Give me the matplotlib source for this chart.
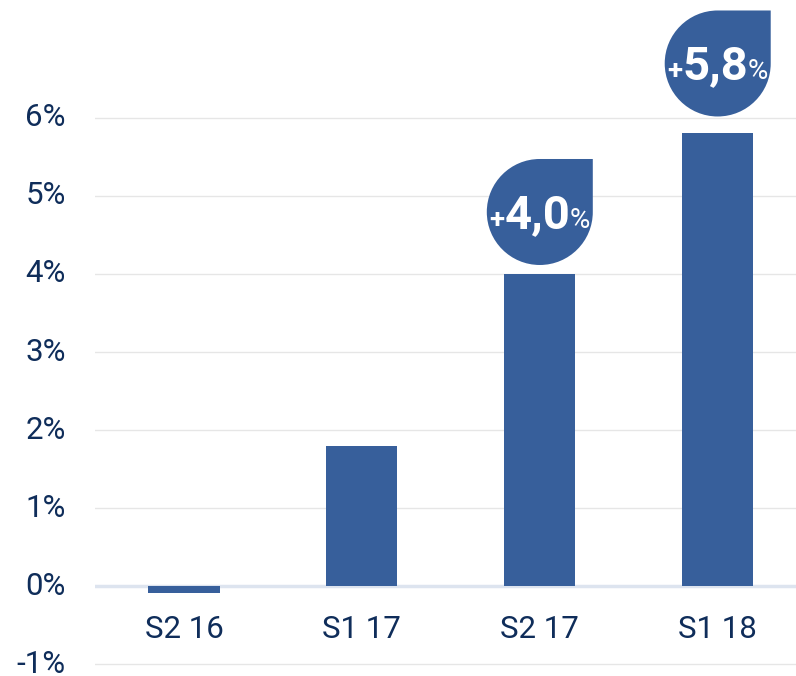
import matplotlib
matplotlib.use("Agg")
import matplotlib.pyplot as plt
import matplotlib.transforms as mtransforms
from matplotlib.path import Path
from matplotlib.patches import PathPatch
from matplotlib.offsetbox import TextArea, HPacker, AnnotationBbox
import numpy as np

plt.rcParams['font.family'] = ['Roboto', 'DejaVu Sans']

# data
categories = ["S2 16", "S1 17", "S2 17", "S1 18"]
values = [-0.09, 1.8, 4.0, 5.8]
y_ticks = [-1, 0, 1, 2, 3, 4, 5, 6]
bubble_idx = [2, 3]
bubble_labels = ["4,0", "5,8"]

bar_color = "#375f9b"
text_color = "#0f2d5a"

fig = plt.figure(figsize=(7.96, 6.76), dpi=100)
ax = fig.add_axes([95 / 796, 0, 701 / 796, 1])
ax.set_xlim(-0.5, 3.44)
ax.set_ylim(-1.15, 7.51)

x = np.arange(len(categories))

# gridlines
for t in y_ticks:
    if t == 0:
        ax.axhline(t, color="#dde4ef", lw=2.5, zorder=1)
    else:
        ax.axhline(t, color="#e6e6e6", lw=1, zorder=1)

ax.bar(x, values, width=0.4, color=bar_color, zorder=2)

# y tick labels
for t in y_ticks:
    ax.text(-0.665, t, f"{t}%", ha="right", va="center", fontsize=22.5,
            color=text_color, clip_on=False)

# x category labels
for xi, c in zip(x, categories):
    ax.text(xi, -0.55, c, ha="center", va="center", fontsize=22.5,
            color=text_color)

# teardrop bubbles (circle with square top-right corner)
offsets_px = [62, 70]
r = 53 / 100.0  # inches
k = 0.5523
verts = [
    (r, 0), (r, r), (0, r),
    (-k * r, r), (-r, k * r), (-r, 0),
    (-r, -k * r), (-k * r, -r), (0, -r),
    (k * r, -r), (r, -k * r), (r, 0),
    (r, 0),
]
codes = [Path.MOVETO, Path.LINETO, Path.LINETO,
         Path.CURVE4, Path.CURVE4, Path.CURVE4,
         Path.CURVE4, Path.CURVE4, Path.CURVE4,
         Path.CURVE4, Path.CURVE4, Path.CURVE4,
         Path.CLOSEPOLY]
drop = Path(verts, codes)

for i, lab, off in zip(bubble_idx, bubble_labels, offsets_px):
    trans = (fig.dpi_scale_trans
             + mtransforms.ScaledTranslation(0, off / 100.0, fig.dpi_scale_trans)
             + mtransforms.ScaledTranslation(x[i], values[i], ax.transData))
    ax.add_patch(PathPatch(drop, transform=trans, facecolor=bar_color,
                           edgecolor="none", zorder=3, clip_on=False))
    parts = [
        TextArea("+", textprops=dict(color="white", fontsize=20, fontweight="bold")),
        TextArea(lab, textprops=dict(color="white", fontsize=34, fontweight="bold")),
        TextArea("%", textprops=dict(color="white", fontsize=20)),
    ]
    box = HPacker(children=parts, align="baseline", pad=0, sep=0)
    ab = AnnotationBbox(box, (x[i], values[i]), xybox=(0, off * 0.72 - 2),
                        xycoords="data", boxcoords="offset points",
                        frameon=False, box_alignment=(0.5, 0.5), zorder=4,
                        annotation_clip=False)
    ax.add_artist(ab)

ax.set_xticks([])
ax.set_yticks([])
for s in ax.spines.values():
    s.set_visible(False)

fig.savefig("out.png", dpi=100)
